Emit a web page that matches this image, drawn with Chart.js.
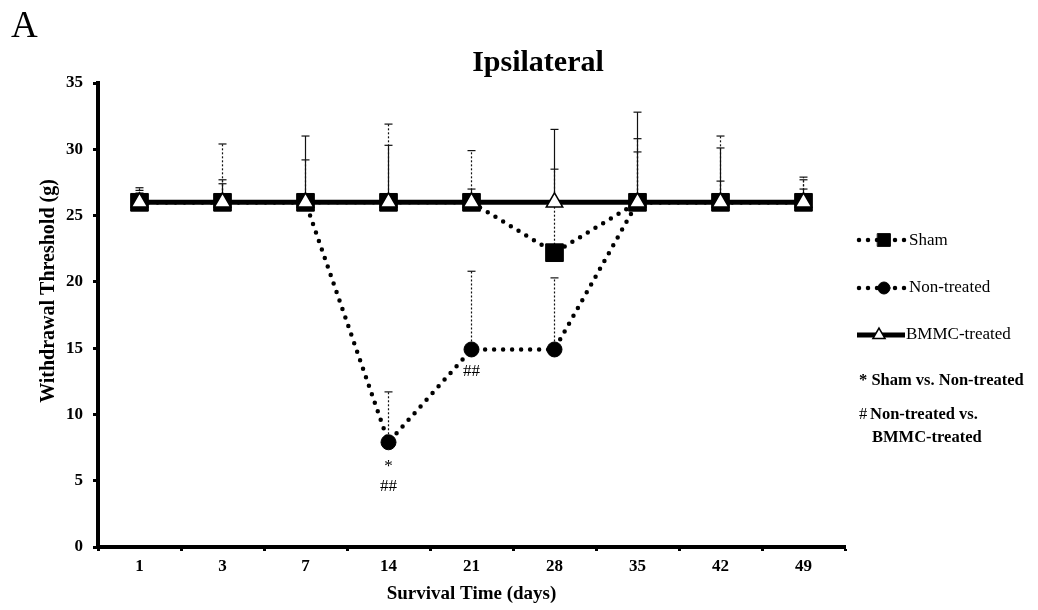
<!DOCTYPE html>
<html>
<head>
<meta charset="utf-8">
<script src="https://cdn.jsdelivr.net/npm/chart.js@4.4.1/dist/chart.umd.min.js"></script>
<style>
  html, body { margin: 0; padding: 0; background: #fff; }
  #wrap { position: relative; width: 1038px; height: 610px; }
</style>
</head>
<body>
<div id="wrap"><canvas id="chart" width="1038" height="610"></canvas></div>
<script>
// data
const days = ['1', '3', '7', '14', '21', '28', '35', '42', '49'];
const shamMean = [26, 26, 26, 26, 26, 22.2, 26, 26, 26];
const nonMean = [26, 26, 26, 7.9, 14.9, 14.9, 26, 26, 26];
const bmmcMean = [26, 26, 26, 26, 26, 26, 26, 26, 26];
const shamSD = [1.1, 1.7, 3.2, 5.9, 3.9, 6.3, 4.8, 5.0, 1.9];
const nonSD = [0.9, 4.4, 0.5, 3.8, 5.9, 5.4, 3.8, 1.6, 1.7];
const bmmcSD = [0.7, 1.4, 5.0, 4.3, 1.0, 5.5, 6.8, 4.1, 1.0];
const starMarks = ['', '', '', '*', '', '', '', '', ''];
const hashMarks = ['', '', '', '##', '##', '', '', '', ''];
const yMin = 0, yMax = 35, yStep = 5;

const serif = "'Liberation Serif', 'Times New Roman', serif";
const sdByLabel = { 'Sham': shamSD, 'Non-treated': nonSD, 'BMMC-treated': bmmcSD };

const dotted = {
  borderColor: '#000',
  borderWidth: 4.5,
  borderDash: [0, 9],
  borderCapStyle: 'round',
  tension: 0
};

// error bars, drawn under the lines and markers
const errorBars = {
  id: 'errorBars',
  beforeDatasetsDraw(chart) {
    const ctx = chart.ctx;
    const y = chart.scales.y;
    chart.data.datasets.forEach((ds, i) => {
      const sd = sdByLabel[ds.label];
      const dash = ds.label === 'BMMC-treated' ? [] : [2, 2];
      ctx.save();
      ctx.strokeStyle = '#111';
      ctx.lineWidth = 1.2;
      chart.getDatasetMeta(i).data.forEach((pt, j) => {
        const top = y.getPixelForValue(ds.data[j] + sd[j]);
        ctx.setLineDash(dash);
        ctx.beginPath();
        ctx.moveTo(pt.x, pt.y);
        ctx.lineTo(pt.x, top);
        ctx.stroke();
        ctx.setLineDash([]);
        ctx.beginPath();
        ctx.moveTo(pt.x - 4, top);
        ctx.lineTo(pt.x + 4, top);
        ctx.stroke();
      });
      ctx.restore();
    });
  }
};

function sample(ctx, x0, x1, y, ds, px, r) {
  ctx.save();
  ctx.strokeStyle = '#000';
  ctx.lineWidth = ds.borderWidth;
  ctx.lineCap = ds.borderCapStyle || 'butt';
  ctx.setLineDash(ds.borderDash || []);
  ctx.beginPath();
  ctx.moveTo(x0, y);
  ctx.lineTo(x1, y);
  ctx.stroke();
  ctx.setLineDash([]);
  ctx.fillStyle = ds.pointBackgroundColor;
  ctx.strokeStyle = ds.pointBorderColor;
  ctx.lineWidth = ds.pointBorderWidth;
  Chart.helpers.drawPoint(ctx, {
    pointStyle: ds.pointStyle, radius: r,
    borderWidth: ds.pointBorderWidth, rotation: 0
  }, px, y);
  ctx.restore();
}

// title, panel letter, y title, significance marks and legend
const extras = {
  id: 'extras',
  afterDraw(chart) {
    const ctx = chart.ctx;
    const area = chart.chartArea;
    ctx.save();
    ctx.fillStyle = '#000';
    ctx.textBaseline = 'alphabetic';
    ctx.textAlign = 'left';
    ctx.font = '37px ' + serif;
    ctx.fillText('A', 11, 37);

    ctx.textAlign = 'center';
    ctx.textBaseline = 'middle';
    ctx.font = 'bold 30px ' + serif;
    ctx.fillText('Ipsilateral', 538, 63);

    ctx.save();
    ctx.translate(49, 291);
    ctx.rotate(-Math.PI / 2);
    ctx.font = 'bold 20px ' + serif;
    ctx.fillText('Withdrawal Threshold (g)', 0, 0);
    ctx.restore();

    // significance marks under the non-treated points
    const nonMeta = chart.getDatasetMeta(1);
    ctx.font = '17px ' + serif;
    nonMeta.data.forEach((pt, j) => {
      let off = 22;
      if (starMarks[j]) {
        ctx.fillText(starMarks[j], pt.x, pt.y + off + 2);
        off += 22;
      }
      if (hashMarks[j]) ctx.fillText(hashMarks[j], pt.x, pt.y + off);
    });

    // legend
    const ds = chart.data.datasets;
    const lx = area.right + 12;
    sample(ctx, lx + 2, lx + 50, 240, ds[0], lx + 27, 9);
    sample(ctx, lx + 2, lx + 50, 288, ds[1], lx + 27, 6);
    sample(ctx, lx, lx + 48, 335, ds[2], lx + 22, 7);
    ctx.textAlign = 'left';
    ctx.font = '17px ' + serif;
    ctx.fillText('Sham', lx + 52, 241);
    ctx.fillText('Non-treated', lx + 52, 288);
    ctx.fillText('BMMC-treated', lx + 49, 335);
    ctx.font = 'bold 16.5px ' + serif;
    ctx.fillText('* Sham vs. Non-treated', lx + 2, 381);
    ctx.font = '16.5px ' + serif;
    ctx.fillText('#', lx + 2, 415);
    ctx.font = 'bold 16.5px ' + serif;
    ctx.fillText('Non-treated vs.', lx + 13, 415);
    ctx.fillText('BMMC-treated', lx + 15, 438);
    ctx.restore();
  }
};

new Chart(document.getElementById('chart'), {
  type: 'line',
  data: {
    labels: days,
    datasets: [{
      label: 'Sham',
      data: shamMean,
      ...dotted,
      pointStyle: 'rect',
      pointRadius: 12.5,
      pointBackgroundColor: '#000',
      pointBorderColor: '#000',
      pointBorderWidth: 1,
      order: 2
    }, {
      label: 'Non-treated',
      data: nonMean,
      ...dotted,
      pointStyle: 'circle',
      pointRadius: 7.5,
      pointBackgroundColor: '#000',
      pointBorderColor: '#000',
      pointBorderWidth: 1,
      order: 1
    }, {
      label: 'BMMC-treated',
      data: bmmcMean,
      borderColor: '#000',
      borderWidth: 5,
      tension: 0,
      pointStyle: 'triangle',
      pointRadius: 9.5,
      pointBackgroundColor: '#fff',
      pointBorderColor: '#000',
      pointBorderWidth: 1.5,
      order: 0
    }]
  },
  options: {
    responsive: false,
    animation: false,
    layout: { padding: { top: 83, right: 193, left: 0, bottom: 0 } },
    plugins: {
      legend: { display: false },
      tooltip: { enabled: false },
      title: { display: false }
    },
    scales: {
      x: {
        type: 'category',
        offset: true,
        border: { display: true, color: '#000', width: 4 },
        grid: { drawOnChartArea: false, drawTicks: true, tickLength: 4, tickWidth: 3, tickColor: '#000', offset: true },
        ticks: { color: '#000', padding: 5, font: { family: serif, size: 17, weight: 'bold' } },
        title: {
          display: true,
          text: 'Survival Time (days)',
          color: '#000',
          padding: { top: 4, bottom: 5 },
          font: { family: serif, size: 19, weight: 'bold' }
        },
        afterFit(scale) { scale.height = 63; }
      },
      y: {
        min: yMin,
        max: yMax,
        border: { display: true, color: '#000', width: 4 },
        grid: { drawOnChartArea: false, drawTicks: true, tickLength: 5, tickWidth: 3, tickColor: '#000' },
        ticks: { stepSize: yStep, color: '#000', padding: 10, font: { family: serif, size: 17, weight: 'bold' } },
        afterFit(scale) { scale.width = 98; }
      }
    }
  },
  plugins: [errorBars, extras]
});
</script>
</body>
</html>
